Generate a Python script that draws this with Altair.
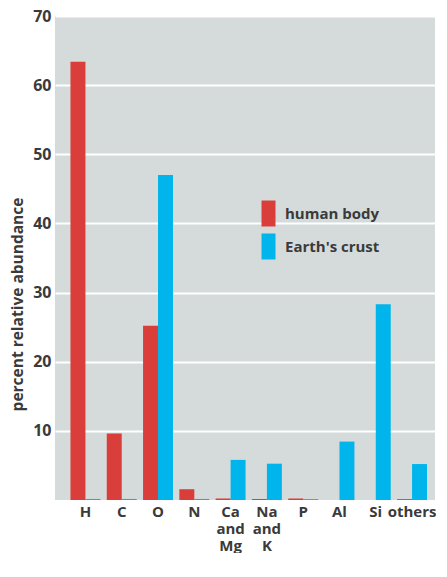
import altair as alt
import pandas as pd

elements = ["H", "C", "O", "N", "Ca and Mg", "Na and K", "P", "Al", "Si", "others"]
human_body = [63.4, 9.6, 25.2, 1.56, 0.22, 0.15, 0.22, 0.0, 0.0, 0.13]
earth_crust = [0.15, 0.15, 47.0, 0.15, 5.8, 5.25, 0.13, 8.45, 28.3, 5.2]
series = ["human body", "Earth's crust"]
colors = ["#d93e3b", "#00b5eb"]
y_ticks = [10, 20, 30, 40, 50, 60, 70]

rows = []
for i, el in enumerate(elements):
    rows.append({"element": el, "series": series[0], "value": human_body[i]})
    rows.append({"element": el, "series": series[1], "value": earth_crust[i]})
df = pd.DataFrame(rows)

FONT = "Open Sans"
TXT = "#3a3a3a"

chart = alt.Chart(df).mark_bar().encode(
    x=alt.X(
        "element:N",
        sort=elements,
        scale=alt.Scale(paddingInner=0.175, paddingOuter=0.323, align=0.66),
        axis=alt.Axis(
            title=None,
            labelAngle=0,
            ticks=False,
            domain=False,
            labelPadding=4,
            labelFont=FONT,
            labelFontWeight="bold",
            labelFontSize=15,
            labelColor=TXT,
            labelLineHeight=17,
            labelExpr="split(datum.label, ' ')",
        ),
    ),
    xOffset=alt.XOffset("series:N", sort=series, scale=alt.Scale(paddingInner=0, paddingOuter=0)),
    y=alt.Y(
        "value:Q",
        scale=alt.Scale(domain=[0, 70], nice=False),
        axis=alt.Axis(
            title="percent relative abundance",
            values=y_ticks,
            ticks=False,
            domain=False,
            grid=True,
            gridColor="#ffffff",
            gridWidth=2,
            labelPadding=4,
            labelFont=FONT,
            labelFontWeight="bold",
            labelFontSize=16,
            labelColor=TXT,
            titleFont=FONT,
            titleFontWeight="bold",
            titleFontSize=15.5,
            titleColor=TXT,
            titlePadding=7,
            titleY=288,
        ),
    ),
    color=alt.Color(
        "series:N",
        sort=series,
        scale=alt.Scale(domain=series, range=colors),
        legend=alt.Legend(
            title=None,
            orient="none",
            legendX=206,
            legendY=190,
            symbolType="M-1,-1.857H1V1.857H-1Z",
            symbolSize=196,
            symbolStrokeWidth=0,
            symbolOpacity=1,
            labelFont=FONT,
            labelFontWeight="bold",
            labelFontSize=15,
            labelColor=TXT,
            labelOffset=9,
            rowPadding=6,
        ),
    ),
).properties(
    width=380,
    height=484,
    padding={"left": 2, "top": 0, "right": 0, "bottom": 0},
).configure_view(
    fill="#d5dbda",
    stroke=None,
)

chart.save("out.html", embed_options={"renderer": "svg", "actions": False})
